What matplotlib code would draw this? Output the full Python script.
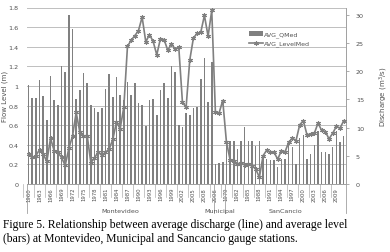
import matplotlib
matplotlib.use("Agg")
import matplotlib.pyplot as plt
import numpy as np

# ---- data ----
stations = ["Montevideo", "Municipal", "SanCancio"]
years_montevideo = list(range(1960, 2011))
years_municipal = [2006, 2007, 2008]
years_sancancio = list(range(1979, 2012))

level_montevideo = [1.01, 0.88, 0.88, 1.06, 0.90, 0.65, 1.10, 0.86, 0.81, 1.20,
                    1.14, 1.72, 1.58, 0.87, 0.96, 1.13, 1.03, 0.81, 0.77, 0.73,
                    0.78, 0.97, 1.12, 0.89, 1.09, 0.91, 0.86, 1.04, 0.91, 1.03,
                    0.83, 0.81, 0.59, 0.86, 0.87, 0.70, 0.96, 1.03, 0.88, 1.20,
                    1.14, 0.60, 0.58, 0.72, 0.70, 0.78, 0.79, 1.07, 1.29, 0.84,
                    1.24]
level_municipal = [0.20, 0.21, 0.22]
level_sancancio = [0.43, 0.44, 0.44, 0.36, 0.44, 0.58, 0.44, 0.44, 0.39, 0.44,
                   0.30, 0.26, 0.24, 0.24, 0.17, 0.26, 0.26, 0.44, 0.38, 0.205,
                   0.47, 0.50, 0.25, 0.31, 0.40, 0.54, 0.33, 0.33, 0.31, 0.38,
                   0.54, 0.43, 0.49]

discharge_montevideo = [5.3, 4.7, 5.0, 6.1, 5.3, 4.0, 8.1, 5.9, 5.6, 4.7,
                        3.3, 6.3, 8.5, 12.7, 9.2, 8.5, 8.6, 3.8, 4.6, 5.7,
                        5.1, 5.6, 6.2, 7.9, 11.0, 9.8, 13.6, 24.4, 25.5, 26.3,
                        27.2, 29.6, 25.2, 26.5, 25.3, 22.9, 25.8, 25.6, 23.7, 24.9,
                        23.9, 24.3, 14.5, 13.6, 22.0, 25.9, 26.7, 26.9, 29.9, 26.2,
                        30.8]
discharge_municipal = [12.7, 12.6, 14.8]
discharge_sancancio = [7.5, 4.3, 4.0, 3.6, 3.7, 3.4, 3.5, 3.25, 2.66, 1.18,
                       5.0, 6.0, 5.6, 5.6, 4.4, 5.9, 5.7, 7.4, 8.1, 7.7,
                       10.5, 11.2, 8.7, 8.9, 9.0, 10.8, 9.5, 9.3, 8.0, 9.0,
                       10.2, 9.9, 11.2]

level_ticks = [0, 0.2, 0.4, 0.6, 0.8, 1.0, 1.2, 1.4, 1.6, 1.8]
level_tick_labels = ["0", "0.2", "0.4", "0.6", "0.8", "1", "1.2", "1.4", "1.6", "1.8"]
discharge_ticks = [0, 5, 10, 15, 20, 25, 30]

years = years_montevideo + years_municipal + years_sancancio
levels = level_montevideo + level_municipal + level_sancancio
discharge = discharge_montevideo + discharge_municipal + discharge_sancancio
group_sizes = [len(years_montevideo), len(years_municipal), len(years_sancancio)]

W, H = 390, 253
fig = plt.figure(figsize=(W / 100, H / 100), dpi=100)
plt.rcParams['font.family'] = ['DejaVu Sans']

x_left, x_right, y_top, y_bot = 26.7, 345.5, 8.5, 185
ax = fig.add_axes([x_left / W, 1 - y_bot / H, (x_right - x_left) / W, (y_bot - y_top) / H])
ax2 = ax.twinx()
axw = x_right - x_left

n = len(years)
x = np.arange(n)
gray = "#808080"
ax.bar(x, levels, width=0.42, color=gray, zorder=2, label="AVG_QMed")
ax.set_xlim(-0.5, n - 0.5)
ax.set_ylim(0, 1.8)
ax.set_yticks(level_ticks)
ax.set_yticklabels(level_tick_labels)
ax.yaxis.grid(True, color="#bfbfbf", linewidth=0.7, zorder=0)
ax.set_axisbelow(True)
for s in ["top", "right", "left"]:
    ax.spines[s].set_visible(False)
ax.spines["bottom"].set_color("#a0a0a0")
ax.spines["bottom"].set_linewidth(0.7)
ax.tick_params(axis="y", length=0, labelsize=4.6, labelcolor="#505050", pad=6)

ax2.plot(x, discharge, color="#808080", linewidth=1.2, marker=(6, 2, 0),
         markersize=3.3, markeredgewidth=0.8, zorder=3, label="AVG_LevelMed")
ax2.set_ylim(0, 31.3)
ax2.set_yticks(discharge_ticks)
for s in ["top", "left", "bottom"]:
    ax2.spines[s].set_visible(False)
ax2.spines["right"].set_color("#a0a0a0")
ax2.spines["right"].set_linewidth(0.7)
ax2.tick_params(axis="y", length=2.5, width=0.6, color="#a0a0a0", labelsize=4.6,
                labelcolor="#505050", pad=5)

# x tick labels every 3 categories
tick_idx = list(range(0, n, 3))
ax.set_xticks(tick_idx)
ax.set_xticklabels([str(years[i]) for i in tick_idx], rotation=90, fontsize=3.9,
                   color="#505050")
ax.tick_params(axis="x", length=0, pad=2)
for i in tick_idx:
    ax.plot([i - 1.5, i - 1.5], [0, -0.13], color="#b0b0b0", lw=0.5,
            clip_on=False, transform=ax.transData)

# group separators and labels
bounds = np.cumsum([0] + group_sizes) - 0.5
for b in bounds:
    ax.plot([b, b], [0, -0.30], color="#a0a0a0", lw=0.6, clip_on=False)
for k, name in enumerate(stations):
    cx = (bounds[k] + bounds[k + 1]) / 2
    if name == "Municipal":
        cx = bounds[k] + 1.8
    ax.text(cx, -0.27, name, ha="center", va="center", fontsize=4.6,
            color="#505050", clip_on=False)

ax.set_ylabel("Flow Level (m)", fontsize=5, color="#505050")
ax.yaxis.set_label_coords((8 - x_left) / axw, 0.5)
ax2.set_ylabel("Discharge (m$^3$/s)", fontsize=5, color="#505050")
ax2.yaxis.set_label_coords((378 - x_left) / axw, 0.5)

# legend
h1, l1 = ax.get_legend_handles_labels()
h2, l2 = ax2.get_legend_handles_labels()
leg = ax2.legend(h1 + h2, l1 + l2, loc="upper left", bbox_to_anchor=(0.69, 0.88),
                 fontsize=4.5, frameon=False, handlelength=2.2, labelspacing=0.5,
                 handletextpad=0.2, borderaxespad=0)
for t in leg.get_texts():
    t.set_color("#505050")

fig.text(0.008, 1 - 225 / H, "Figure 5. Relationship between average discharge (line) and average level",
         fontsize=8.4, family="Liberation Serif", va="center", ha="left")
fig.text(0.008, 1 - 239 / H, "(bars) at Montevideo, Municipal and Sancancio gauge stations.",
         fontsize=8.4, family="Liberation Serif", va="center", ha="left")

fig.savefig("out.png", dpi=100)
